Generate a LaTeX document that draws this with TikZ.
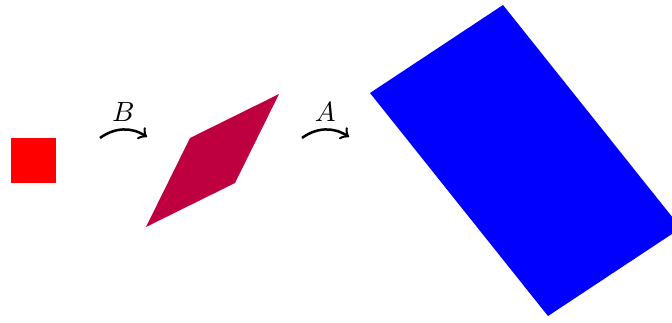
\documentclass[tikz,border=0pt]{standalone}
\definecolor{mypurple}{rgb}{0.75,0,0.25}
\tikzset{
  maparrow/.style={->, line width=0.9pt, bend left=35},
}
\begin{document}
\begin{tikzpicture}[x=0.36pt,y=-0.36pt]
\useasboundingbox (0,0) rectangle (672,322);
\clip (0,0) rectangle (672,322);
% red square
\fill[red] (11,138) rectangle (56,183);
% purple parallelogram
\fill[mypurple] (146,227) -- (190,138) -- (279,94) -- (235,183) -- cycle;
% blue rectangle
\fill[blue] (370,93) -- (503,5) -- (681,228) -- (548,316) -- cycle;
% arrows
\coordinate (b1) at (100,138);
\coordinate (b2) at (147,137);
\coordinate (a1) at (302,138);
\coordinate (a2) at (349,137);
\draw[maparrow] (b1) to node[above, inner sep=2.5pt] (lb) {$B$} (b2);
\draw[maparrow] (a1) to node[above, inner sep=2.5pt] (la) {$A$} (a2);
\end{tikzpicture}
\end{document}
